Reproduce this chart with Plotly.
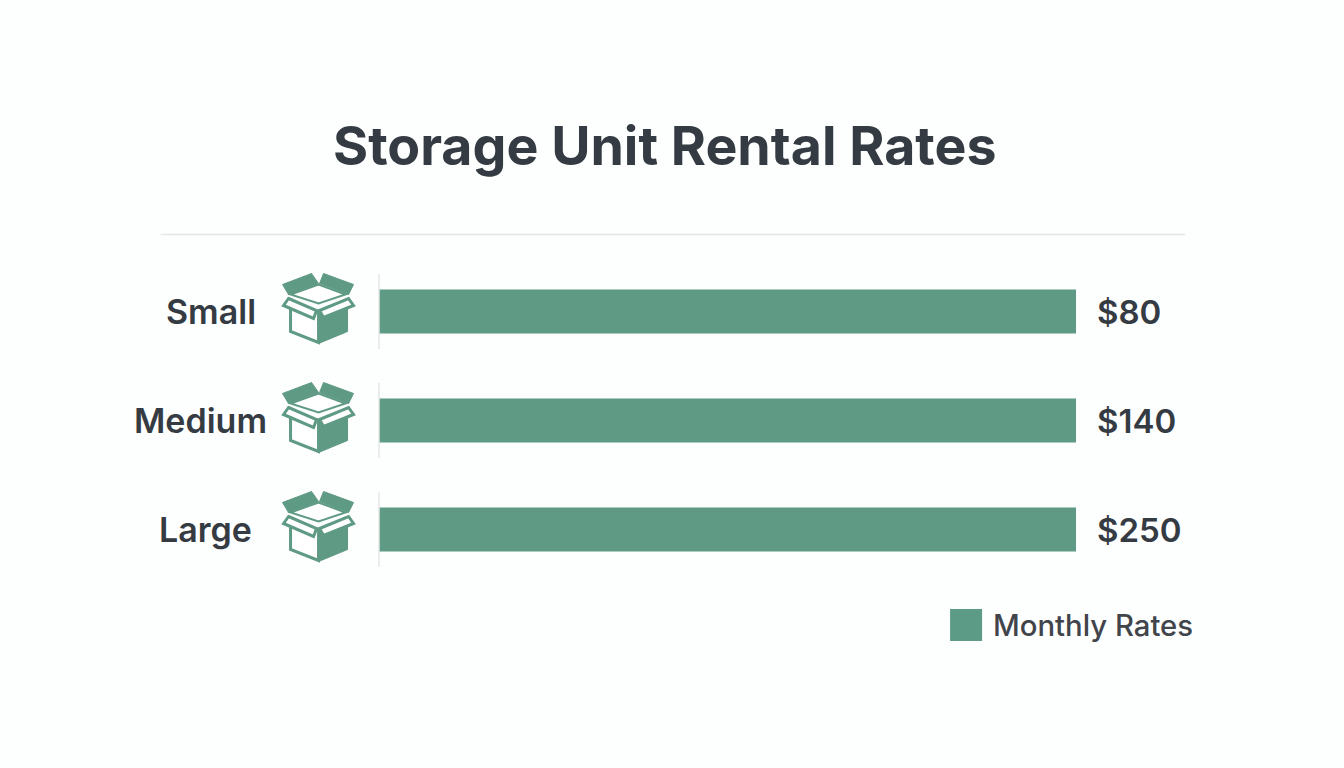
import plotly.graph_objects as go

categories = ["Small", "Medium", "Large"]
rate_labels = ["$80", "$140", "$250"]
bar_lengths = [100, 100, 100]  # the source draws all three bars at full, equal length
series_name = "Monthly Rates"
title_text = "Storage Unit Rental Rates"

BAR = "#5f9a84"
SWATCH = "#5c9c87"
INK = "#353b43"
LEGEND_INK = "#41454b"
RULE = "#e4e7e7"
BG = "#fdfefe"
FONT = "Inter"

W, H = 1344, 768
L, R, T, B = 378.5, 1076, 257, 584


def px(x):
    return (x - L) / (R - L)


def py(y):
    return (B - y) / (B - T)


label_centres = [210, 199.5, 204.5]

# Box icon, as polygons in pixels around the icon centre (y up)
flap_tl = [(-36, 27), (-7, 38), (0, 28), (-30, 17)]
flap_tr = [(5, 38), (35, 27), (30, 17), (1, 28)]
lid_inner = [(-28, 17), (0, 27), (27, 17), (0, 8)]
flap_l = [(-30, 13), (-2, 1), (-5, -7), (-35, 6)]
flap_r = [(1, 1), (30, 13), (35, 6), (5, -6)]
front = [(-28, 4), (-28, -20), (0, -31), (0, 0)]
side = [(0, -2), (29, 8), (29, -20), (0, -32)]
icon_filled = [flap_tl, flap_tr, side]
icon_outlined = [(front, 3), (lid_inner, 2), (flap_l, 3), (flap_r, 3)]


def path(points):
    return "M" + " L".join(f"{x},{y}" for x, y in points) + " Z"


fig = go.Figure(
    go.Bar(
        y=categories,
        x=bar_lengths,
        orientation="h",
        name=series_name,
        marker=dict(color=BAR, line=dict(width=0)),
        hovertemplate="%{y}: %{customdata}<extra></extra>",
        customdata=rate_labels,
    )
)

shapes = [
    dict(type="line", xref="paper", yref="paper", x0=px(160), x1=px(1185), y0=py(234.5), y1=py(234.5),
         line=dict(color=RULE, width=1.5)),
    dict(type="rect", xref="paper", yref="paper", x0=px(950), x1=px(982), y0=py(641), y1=py(609),
         fillcolor=SWATCH, line=dict(width=0)),
]
annotations = [
    dict(text=title_text, xref="paper", yref="paper", x=px(665), y=py(145.5), xanchor="center", yanchor="middle",
         showarrow=False, font=dict(family=FONT, size=53.7, color=INK, weight=700)),
    dict(text=series_name, xref="paper", yref="paper", x=px(990.5), y=py(625.5), xanchor="left", yanchor="middle",
         showarrow=False, font=dict(family=FONT, size=29.3, color=LEGEND_INK, weight=500)),
]

for i, cat in enumerate(categories):
    shapes.append(dict(type="line", xref="paper", yref="y", ysizemode="pixel", yanchor=cat,
                       x0=0, x1=0, y0=-37.5, y1=37.5, line=dict(color=RULE, width=1.5)))
    for poly in icon_filled:
        shapes.append(dict(type="path", xref="paper", yref="y", xsizemode="pixel", ysizemode="pixel",
                           xanchor=px(318), yanchor=cat, path=path(poly),
                           fillcolor=BAR, line=dict(color=BAR, width=1)))
    for poly, stroke in icon_outlined:
        shapes.append(dict(type="path", xref="paper", yref="y", xsizemode="pixel", ysizemode="pixel",
                           xanchor=px(318), yanchor=cat, path=path(poly),
                           fillcolor="white", line=dict(color=BAR, width=stroke)))
    annotations.append(dict(text=cat, xref="paper", yref="y", x=px(label_centres[i]), y=cat,
                            xanchor="center", yanchor="middle", showarrow=False,
                            font=dict(family=FONT, size=34, color=INK, weight=600)))
    annotations.append(dict(text=rate_labels[i], xref="x", yref="y", x=bar_lengths[i], y=cat, xshift=18.5,
                            xanchor="left", yanchor="middle", showarrow=False,
                            font=dict(family=FONT, size=33, color=INK, weight=600)))

fig.update_layout(
    width=W,
    height=H,
    autosize=False,
    margin=dict(l=L, r=W - R, t=T, b=H - B, pad=0),
    paper_bgcolor=BG,
    plot_bgcolor=BG,
    showlegend=False,
    bargap=1 - 44 / 109,
    xaxis=dict(range=[0, 100], visible=False, fixedrange=True),
    yaxis=dict(type="category", categoryorder="array", categoryarray=categories, range=[2.5, -0.5],
               visible=False, fixedrange=True),
    shapes=shapes,
    annotations=annotations,
)

fig.write_html(
    "out.html",
    config=dict(displayModeBar=False),
    post_script="document.body.style.margin='0';document.body.style.overflow='hidden';",
)
